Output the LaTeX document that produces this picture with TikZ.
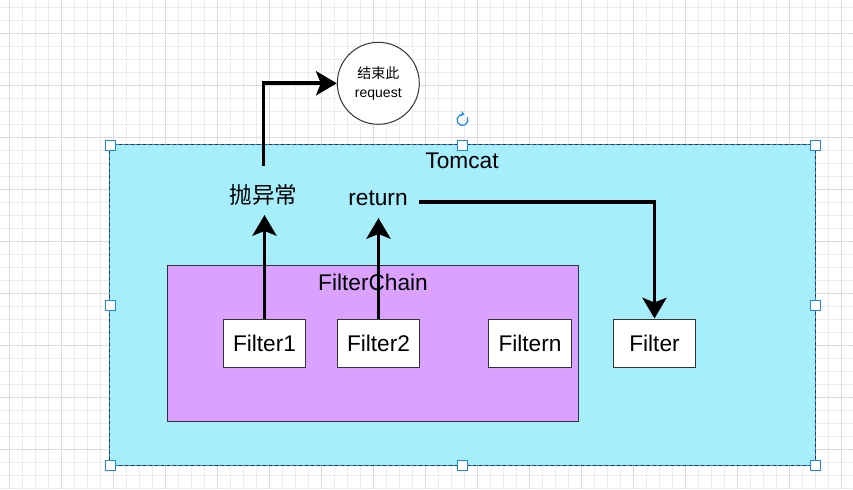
\documentclass[tikz,border=0pt]{standalone}
\usepackage{fontspec}
\setmainfont{Liberation Sans}
\newfontfamily\cjk{Noto Sans CJK SC}
\usetikzlibrary{arrows.meta,calc}
\definecolor{tomcatfill}{RGB}{166,238,252}
\definecolor{chainfill}{RGB}{218,162,254}
\definecolor{selblue}{RGB}{30,136,240}
\definecolor{gridminor}{RGB}{236,236,236}
\definecolor{gridmajor}{RGB}{220,220,220}
\definecolor{boxline}{RGB}{51,51,51}
\tikzset{
  box/.style={draw=boxline, line width=0.75pt, fill=white, inner sep=0pt,
    minimum width={82*0.75pt}, minimum height={48*0.75pt}, font=\fontsize{17}{20}\selectfont},
  lbl/.style={inner sep=0pt, font=\fontsize{17}{20}\selectfont},
  arr/.style={line width=2.9pt, -{Stealth[length=15.5pt, width=18pt, inset=3.5pt]}},
  handle/.style={draw=selblue, fill=white, line width=0.75pt, inner sep=0pt, minimum size=7.5pt},
}
\begin{document}
\begin{tikzpicture}[x=0.75pt,y=-0.75pt]
\useasboundingbox (0,0) rectangle (853,489);
\fill[white] (0,0) rectangle (853,489);
% grid
\foreach \i in {0,...,64} \draw[gridminor, line width=0.7pt] ({9.3+13*\i},0) -- ({9.3+13*\i},489);
\foreach \j in {0,...,37} \draw[gridminor, line width=0.7pt] (0,{7.3+13*\j}) -- (853,{7.3+13*\j});
\foreach \i in {0,...,16} \draw[gridmajor, line width=0.7pt] ({9.3+52*\i},0) -- ({9.3+52*\i},489);
\foreach \j in {0,...,8} \draw[gridmajor, line width=0.7pt] (0,{33.3+52*\j}) -- (853,{33.3+52*\j});

% Tomcat container
\node[fill=tomcatfill, inner sep=0pt, minimum width={705*0.75pt}, minimum height={320*0.75pt}] (tomcat) at (462.5,305) {};
\draw[selblue, line width=0.75pt] (tomcat.north west) rectangle (tomcat.south east);
\draw[boxline, line width=0.75pt, dash pattern=on 2.25pt off 2.25pt] (tomcat.north west) rectangle (tomcat.south east);
\node[lbl, anchor=base] (tomcatlbl) at (462,168) {Tomcat};

% FilterChain
\node[draw=boxline, line width=0.75pt, fill=chainfill, inner sep=0pt, minimum width={411*0.75pt}, minimum height={156*0.75pt}] (chain) at (372.75,343) {};
\node[lbl, anchor=base] (chainlbl) at (373,290) {FilterChain};

% filters
\node[box] (f1) at (264.5,343) {Filter1};
\node[box] (f2) at (378.5,343) {Filter2};
\node[box, minimum width={83*0.75pt}] (fn) at (530,343) {Filtern};
\node[box] (filter) at (654.5,343) {Filter};

% labels
\node[lbl, font=\cjk\fontsize{17}{20}\selectfont] (exc) at (263.5,195) {抛异常};
\node[lbl] (ret) at (378,198) {return};

% end circle
\node[draw=boxline, line width=0.75pt, fill=white, circle, inner sep=0pt, minimum size={82*0.75pt},
  align=center, font=\fontsize{10.5}{14.25}\selectfont] (endc) at (378.3,83.3) {{\cjk 结束此}\\request};

% connector ends
\coordinate (t1) at (264.3,215);
\coordinate (t2) at (378.6,218);
\coordinate (s3) at (263.5,166);
\coordinate (s4) at (419,202);

% arrows
\draw[arr] (f1.north) -- (f1.north |- t1);
\draw[arr] (f2.north) -- (f2.north |- t2);
\draw[arr] (s3) |- (endc.west);
\draw[arr] (s4) -| (filter.north);

% selection handles
\foreach \p [count=\k] in {(110,145),(462.5,145),(815,145),(110,305),(815,305),(110,465),(462.5,465),(815,465)}
  \node[handle] (h\k) at \p {};

% rotate icon
\coordinate (rot) at (462.5,120);
\draw[selblue, line width=0.9pt, -{Stealth[length=3pt, width=4.5pt]}] ($(rot)+(-30:5.5)$) arc[start angle=-30, end angle=290, radius=5.5];
\end{tikzpicture}
\end{document}
